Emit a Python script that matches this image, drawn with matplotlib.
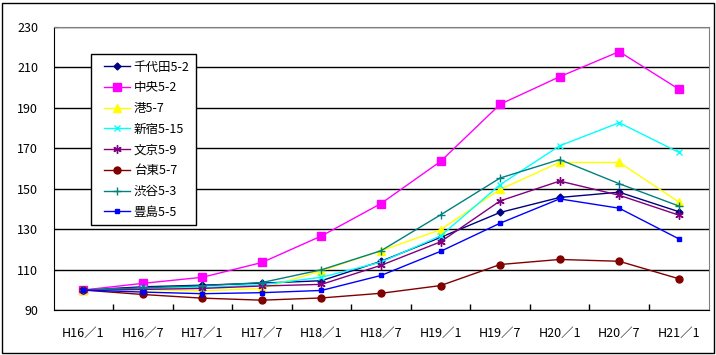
import matplotlib
matplotlib.use("Agg")
import matplotlib.pyplot as plt
from matplotlib.patches import Rectangle
from matplotlib.lines import Line2D
from matplotlib.legend_handler import HandlerLine2D
import numpy as np

plt.rcParams['font.family'] = ['Noto Sans CJK JP', 'DejaVu Sans']

# data
periods = ['H16／1', 'H16／7', 'H17／1', 'H17／7', 'H18／1', 'H18／7',
           'H19／1', 'H19／7', 'H20／1', 'H20／7', 'H21／1']

chiyoda = [100, 101.6, 102.4, 103.4, 104.6, 114.2, 126.0, 138.3, 145.7, 148.3, 138.7]
chuo = [100, 103.3, 106.3, 113.6, 126.7, 142.7, 163.5, 191.7, 205.3, 217.7, 199.2]
minato = [100, 100.2, 99.6, 100.8, 109.5, 119.4, 129.8, 149.7, 163.0, 163.0, 143.5]
shinjuku = [100, 100.8, 101.2, 102.6, 106.3, 113.8, 126.7, 152.0, 171.2, 182.6, 168.0]
bunkyo = [100, 100.3, 100.8, 102.0, 102.8, 112.2, 123.8, 144.0, 153.8, 146.8, 137.0]
taito = [100, 97.8, 96.0, 95.0, 96.1, 98.4, 102.2, 112.6, 115.1, 114.2, 105.6]
shibuya = [100, 101.1, 102.1, 103.7, 110.0, 119.4, 137.1, 155.3, 164.4, 152.5, 141.5]
toshima = [100, 99.0, 98.2, 98.7, 99.8, 107.2, 119.1, 133.0, 145.0, 140.4, 125.3]

series = [
    ('千代田5-2', chiyoda, '#000080', 'D', 3.5),
    ('中央5-2', chuo, '#FF00FF', 's', 5.5),
    ('港5-7', minato, '#FFFF00', '^', 5.5),
    ('新宿5-15', shinjuku, '#00FFFF', 'x', 5),
    ('文京5-9', bunkyo, '#800080', (6, 2, 0), 6),
    ('台東5-7', taito, '#800000', 'o', 5),
    ('渋谷5-3', shibuya, '#008080', '+', 6),
    ('豊島5-5', toshima, '#0000FF', 's', 2.5),
]

fig = plt.figure(figsize=(7.16, 3.55), dpi=100)
ax = fig.add_axes([53.5 / 716, 1 - 310.3 / 355, 655 / 716, 283.6 / 355])

x = np.arange(len(periods))
for name, vals, col, mk, ms in series:
    ax.plot(x, vals, color=col, lw=1, marker=mk, ms=ms, mew=1,
            mec=col, mfc=col, label=name)

ax.set_xlim(-0.5, len(periods) - 0.5)
ax.set_ylim(90, 230)
ax.set_yticks(range(90, 231, 20))
ax.set_xticks(x)
ax.set_xticklabels(periods)
ax.set_xticks(x[:-1] + 0.5, minor=True)
ax.tick_params(axis='x', which='major', length=0, pad=12, labelsize=9)
ax.tick_params(axis='x', which='minor', direction='in', length=4, width=1)
ax.tick_params(axis='y', direction='in', length=3, pad=11, labelsize=9)

ax.yaxis.grid(True, color='black', lw=1)
ax.set_axisbelow(True)
ax.spines['top'].set_color('#808080')
ax.spines['right'].set_color('#808080')

leg = ax.legend(loc='upper left', bbox_to_anchor=(0.0576, 0.9027),
                borderaxespad=0, fancybox=False, framealpha=1,
                edgecolor='black', fontsize=9, handlelength=2.6,
                handletextpad=0.3, labelspacing=0.62, borderpad=0.5,
                handler_map={Line2D: HandlerLine2D(xpad=0.55)})
leg.get_frame().set_linewidth(1)

fig.add_artist(Rectangle((2 / 716, 2.5 / 355), 711.5 / 716, 350 / 355,
                         transform=fig.transFigure, fill=False,
                         edgecolor='black', lw=1))

fig.savefig('out.png', dpi=100)
